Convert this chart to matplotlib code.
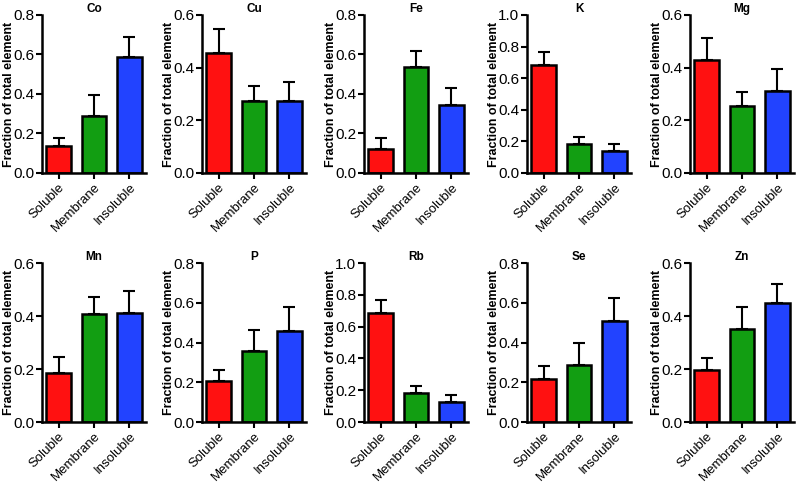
import matplotlib
matplotlib.use("Agg")
import matplotlib.pyplot as plt

plt.rcParams['font.family'] = ['Liberation Sans', 'DejaVu Sans']

fractions = ["Soluble", "Membrane", "Insoluble"]
colors = ["#ff1111", "#129e12", "#2243ff"]

elements = ["Co", "Cu", "Fe", "K", "Mg", "Mn", "P", "Rb", "Se", "Zn"]
# mean fraction of each element (Soluble, Membrane, Insoluble)
means = {
    "Co": [0.137, 0.288, 0.588],
    "Cu": [0.454, 0.275, 0.273],
    "Fe": [0.124, 0.539, 0.344],
    "K":  [0.684, 0.181, 0.137],
    "Mg": [0.429, 0.256, 0.313],
    "Mn": [0.184, 0.409, 0.411],
    "P":  [0.204, 0.355, 0.457],
    "Rb": [0.685, 0.185, 0.126],
    "Se": [0.217, 0.287, 0.506],
    "Zn": [0.198, 0.351, 0.449],
}
# top of the error bar
tops = {
    "Co": [0.176, 0.397, 0.690],
    "Cu": [0.548, 0.329, 0.345],
    "Fe": [0.175, 0.620, 0.429],
    "K":  [0.766, 0.227, 0.185],
    "Mg": [0.513, 0.309, 0.396],
    "Mn": [0.244, 0.473, 0.494],
    "P":  [0.263, 0.463, 0.577],
    "Rb": [0.766, 0.228, 0.170],
    "Se": [0.282, 0.397, 0.624],
    "Zn": [0.242, 0.435, 0.521],
}
ymax = {"Co": 0.8, "Cu": 0.6, "Fe": 0.8, "K": 1.0, "Mg": 0.6,
        "Mn": 0.6, "P": 0.8, "Rb": 1.0, "Se": 0.8, "Zn": 0.6}

W, H = 799, 486
fig = plt.figure(figsize=(W / 100, H / 100), dpi=100)

lefts = [42, 202, 364, 527, 690]
rows = [(15, 173), (263, 422)]
aw = 104

for i, el in enumerate(elements):
    r, c = divmod(i, 5)
    top, bot = rows[r]
    ax = fig.add_axes([lefts[c] / W, 1 - bot / H, aw / W, (bot - top) / H])
    x = range(3)
    m = means[el]
    up = [t - v for t, v in zip(tops[el], m)]
    ax.bar(x, m, width=0.7, color=colors, edgecolor="black", linewidth=1.8,
           yerr=[[0, 0, 0], up], capsize=4.5,
           error_kw=dict(elinewidth=1.5, capthick=1.5, ecolor="black"))
    ax.set_xlim(-0.47, 2.47)
    ymx = ymax[el]
    ax.set_ylim(0, ymx)
    step = 0.2
    ticks = [round(k * step, 1) for k in range(int(round(ymx / step)) + 1)]
    ax.set_yticks(ticks)
    ax.set_yticklabels([f"{t:.1f}" for t in ticks], fontsize=11)
    ax.set_xticks(list(x))
    ax.set_xticklabels(fractions, rotation=45, ha="right", rotation_mode="anchor",
                       fontsize=9.5)
    ax.set_title(el, fontsize=8.5, fontweight="bold", pad=2)
    ax.set_ylabel("Fraction of total element", fontsize=9, fontweight="bold")
    # right edge of the rotated label sits about 27 px left of the axis
    ax.yaxis.set_label_coords(-27 / aw, 0.5)
    for s in ["top", "right"]:
        ax.spines[s].set_visible(False)
    for s in ["left", "bottom"]:
        ax.spines[s].set_linewidth(1.8)
    ax.tick_params(width=1.5, length=4, pad=1.5)
    ax.tick_params(axis="x", pad=2)

fig.savefig("out.png", dpi=100)
